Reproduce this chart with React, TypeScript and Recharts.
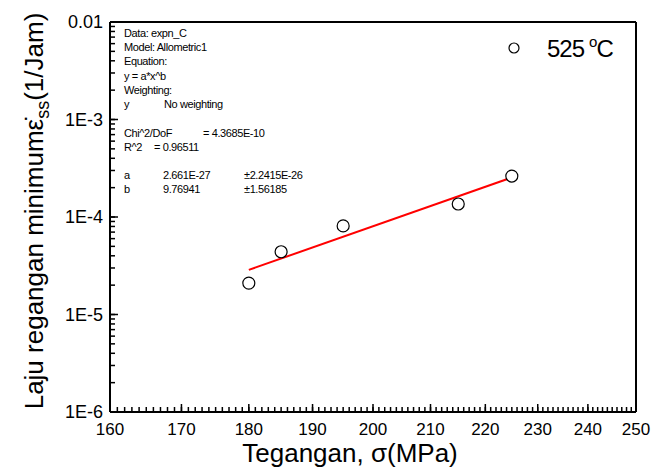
import React from 'react';
import { ScatterChart, Scatter, XAxis, YAxis } from 'recharts';

// measured creep points at 525 C
const stress = [180, 185, 195, 215, 225];
const strainRate = [2.1e-5, 4.4e-5, 8.1e-5, 1.36e-4, 2.63e-4];

// allometric fit end points (straight on log-log)
const fitStress = [180, 225];
const fitRate = [2.87e-5, 2.54e-4];

const xMajorTicks = [160, 170, 180, 190, 200, 210, 220, 230, 240, 250];
const xTicks = Array.from({ length: 91 }, (_, i) => 160 + i);
const yDecades = [1e-6, 1e-5, 1e-4, 1e-3, 1e-2];
const yDecadeLabels = ['1E-6', '1E-5', '1E-4', '1E-3', '0.01'];
const yTicks = yDecades.flatMap((d, i) =>
  i === yDecades.length - 1 ? [d] : [1, 2, 3, 4, 5, 6, 7, 8, 9].map((m) => m * d)
);

const fitNotes = [
  { y: 37, cols: [['Data: expn_C', 124]] },
  { y: 51, cols: [['Model: Allometric1', 124]] },
  { y: 65, cols: [['Equation:', 124]] },
  { y: 80, cols: [['y = a*x^b', 124]] },
  { y: 94, cols: [['Weighting:', 124]] },
  { y: 108, cols: [['y', 124], ['No weighting', 164]] },
  { y: 137, cols: [['Chi^2/DoF', 124], ['= 4.3685E-10', 203]] },
  { y: 151, cols: [['R^2', 124], ['= 0.96511', 154]] },
  { y: 179, cols: [['a', 124], ['2.661E-27', 163], ['\u00B12.2415E-26', 244]] },
  { y: 193, cols: [['b', 124], ['9.76941', 163], ['\u00B11.56185', 244]] },
];

const points = stress.map((x, i) => ({ x, y: strainRate[i] }));
const fit = fitStress.map((x, i) => ({ x, y: fitRate[i] }));

const FONT = '"Liberation Sans", Arial, sans-serif';

const decadeLabel = (v: number) => {
  const i = yDecades.findIndex((d) => Math.abs(v - d) / d < 1e-6);
  return i >= 0 ? yDecadeLabels[i] : null;
};

// minor marks come from tickLine; majors get a longer mark + label
const renderBottomTick = (p: any) => {
  const { x, y, payload } = p;
  if (!xMajorTicks.includes(payload.value)) return <g />;
  return (
    <g>
      <line x1={x} x2={x} y1={y} y2={y - 8} stroke="#000" strokeWidth={1.5} />
      <text x={x} y={y + 23} textAnchor="middle" fontSize={17} fontFamily={FONT} fill="#000">
        {payload.value}
      </text>
    </g>
  );
};

const renderLeftTick = (p: any) => {
  const { x, y, payload } = p;
  const label = decadeLabel(payload.value);
  if (!label) return <g />;
  return (
    <g>
      <line x1={x} x2={x + 8} y1={y} y2={y} stroke="#000" strokeWidth={1.5} />
      <text x={x - 7} y={y + 6} textAnchor="end" fontSize={18} fontFamily={FONT} fill="#000">
        {label}
      </text>
    </g>
  );
};

const OpenCircle = ({ cx, cy }: any) => (
  <circle cx={cx} cy={cy} r={6} fill="#fff" stroke="#000" strokeWidth={1.2} />
);

const axisLine = { stroke: '#000', strokeWidth: 2 };
const tickLine = { stroke: '#000', strokeWidth: 1.5 };

export default function App() {
  return (
    <div style={{ position: 'absolute', left: 0, top: 0, width: 651, height: 468, background: '#fff' }}>
      <ScatterChart width={651} height={468} margin={{ top: 21, right: 14, bottom: 0, left: 0 }}>
        <XAxis
          xAxisId="b"
          type="number"
          dataKey="x"
          scale="log"
          domain={[160, 250]}
          ticks={xTicks}
          interval={0}
          height={56}
          tickSize={-5}
          tickMargin={5}
          tickLine={tickLine}
          axisLine={axisLine}
          tick={renderBottomTick}
        />
        <XAxis
          xAxisId="t"
          orientation="top"
          type="number"
          dataKey="x"
          scale="log"
          domain={[160, 250]}
          ticks={xTicks}
          interval={0}
          height={1}
          tickSize={-3}
          tickLine={tickLine}
          axisLine={axisLine}
          tick={false}
        />
        <YAxis
          yAxisId="l"
          type="number"
          dataKey="y"
          scale="log"
          domain={[1e-6, 1e-2]}
          ticks={yTicks}
          interval={0}
          width={110}
          tickSize={-5}
          tickMargin={5}
          tickLine={tickLine}
          axisLine={axisLine}
          tick={renderLeftTick}
        />
        <YAxis
          yAxisId="r"
          orientation="right"
          type="number"
          dataKey="y"
          scale="log"
          domain={[1e-6, 1e-2]}
          ticks={yTicks}
          interval={0}
          width={1}
          tickSize={-3}
          tickLine={tickLine}
          axisLine={axisLine}
          tick={false}
        />
        <Scatter
          xAxisId="t"
          yAxisId="r"
          data={fit}
          line={{ stroke: '#ff0000', strokeWidth: 2 }}
          shape={() => <g />}
          isAnimationActive={false}
        />
        <Scatter xAxisId="b" yAxisId="l" data={points} shape={<OpenCircle />} isAnimationActive={false} />
      </ScatterChart>
      <svg
        width={651}
        height={468}
        style={{ position: 'absolute', left: 0, top: 0, pointerEvents: 'none' }}
        fontFamily={FONT}
      >
        {fitNotes.map((row, i) => (
          <text key={i} y={row.y} fontSize={11} letterSpacing={-0.4} fill="#000">
            {row.cols.map(([t, x], j) => (
              <tspan key={j} x={x as number}>
                {t}
              </tspan>
            ))}
          </text>
        ))}
        <circle cx={514} cy={48} r={5} fill="#fff" stroke="#000" strokeWidth={1.2} />
        <text x={547} y={57} fontSize={24} fill="#000" letterSpacing={-1}>
          525
          <tspan dx={5} dy={-10} fontSize={15}>o</tspan>
          <tspan dy={10}>C</tspan>
        </text>
        <text transform="translate(43,211) rotate(-90)" textAnchor="middle" fontSize={26} fill="#000">
          Laju regangan minimum{'\u03B5\u0307'}
          <tspan dy={6} fontSize={18}>ss</tspan>
          <tspan dy={-6}>(1/Jam)</tspan>
        </text>
        <text x={350} y={462} textAnchor="middle" fontSize={26} fill="#000">
          Tegangan, {'\u03C3'}(MPa)
        </text>
      </svg>
    </div>
  );
}
